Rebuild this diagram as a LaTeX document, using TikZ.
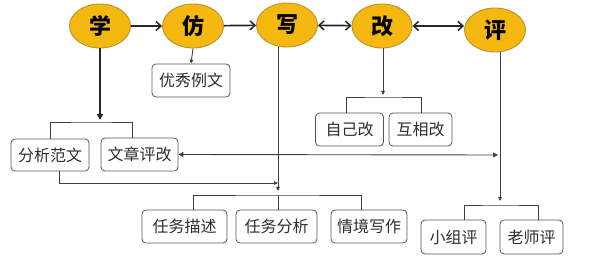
\documentclass[tikz,border=0pt]{standalone}
\usepackage{fontspec}
\newfontfamily\cjk{Noto Sans CJK SC}
\usetikzlibrary{shapes.geometric,arrows.meta,calc}
\definecolor{gold}{RGB}{244,184,16}
\definecolor{goldline}{RGB}{185,145,45}
\definecolor{boxline}{RGB}{85,85,85}
\definecolor{txt}{RGB}{45,45,45}
\tikzset{
  stage/.style={ellipse,draw=goldline,fill=gold,line width=0.9pt,minimum width=61pt,minimum height=44pt,inner sep=0pt,font=\cjk\bfseries\fontsize{22}{22}\selectfont,text=black},
  item/.style={draw=boxline,rounded corners=4pt,line width=0.8pt,inner sep=0pt,font=\cjk\fontsize{16}{16}\selectfont,text=txt},
  bigarrow/.style={line width=1.7pt,draw=black!85,-{Straight Barb[length=5pt,width=9pt,line width=1.5pt]}},
  bigdouble/.style={line width=1.7pt,draw=black!85,{Straight Barb[length=5pt,width=9pt,line width=1.5pt]}-{Straight Barb[length=5pt,width=9pt,line width=1.5pt]}},
  thin/.style={line width=0.9pt,draw=black!75},
  thinarrow/.style={thin,-{Triangle[length=4pt,width=3.5pt]}},
  thindouble/.style={thin,{Triangle[length=5pt,width=5pt]}-{Triangle[length=5pt,width=5pt]}}
}
\begin{document}
\begin{tikzpicture}[x=1pt,y=-1pt]
\useasboundingbox (0,0) rectangle (593,272);
% stages
\node[stage] (xue)  at (100,26) {学};
\node[stage] (fang) at (193,26) {仿};
\node[stage] (xie)  at (287,25) {写};
\node[stage,minimum width=60pt] (gai) at (382,26) {改};
\node[stage] (ping) at (495,30) {评};
% boxes
\node[item,minimum width=78pt,minimum height=33pt] (youxiu) at (191,80.5) {优秀例文};
\node[item,minimum width=78pt,minimum height=32pt] (fenxi) at (50,155) {分析范文};
\node[item,minimum width=77pt,minimum height=33pt] (wenzhang) at (139.5,154.5) {文章评改};
\node[item,minimum width=68pt,minimum height=33pt] (ziji) at (349.5,129.5) {自己改};
\node[item,minimum width=63pt,minimum height=33pt] (huxiang) at (420.5,129.5) {互相改};
\node[item,minimum width=85pt,minimum height=33pt] (rw1) at (184.5,226.5) {任务描述};
\node[item,minimum width=81pt,minimum height=33pt] (rw2) at (276.5,226.5) {任务分析};
\node[item,minimum width=76pt,minimum height=33pt] (qj) at (369,226.5) {情境写作};
\node[item,minimum width=65pt,minimum height=34pt] (xz) at (453.5,237) {小组评};
\node[item,minimum width=63pt,minimum height=34pt] (ls) at (531.5,237) {老师评};
% top chain
\draw[bigarrow] (xue) -- (fang);
\draw[bigarrow] (fang) -- (xie);
\draw[bigdouble] (xie) -- (gai);
\draw[bigdouble] (gai.east) -- (gai.east -| ping.west);
% coordinates
\coordinate (xueend) at (100,120);
\coordinate (b1) at (91,122);
\coordinate (xieend) at (278,191);
\coordinate (b2) at (278,195);
\coordinate (fxend) at (278,183);
\coordinate (gaiend) at (383,95);
\coordinate (b3) at (383,97);
\coordinate (pingend) at (500,201);
\coordinate (b4) at (500,205);
\coordinate (dblend) at (498,155);
% 学
\draw[line width=1.5pt,draw=black!85,-{Triangle[length=6pt,width=6pt]}] (xue.south) -- (xueend);
\draw[thin] (fenxi.north) |- (b1) -| ([xshift=-7.5pt]wenzhang.north);
% 仿
\draw[thinarrow] (fang.south) -- (youxiu.north);
% 写
\draw[thinarrow] ([xshift=-9pt]xie.south) -- (xieend);
\draw[thin] ([xshift=8.5pt]rw1.north) |- (b2) -| ([xshift=-8pt]qj.north);
\draw[thin] (b2) -- ([xshift=1.5pt]rw2.north);
\draw[thinarrow] ([xshift=9pt]fenxi.south) |- (fxend);
% 改
\draw[thinarrow] ([xshift=1pt]gai.south) -- (gaiend);
\draw[thin] ([xshift=-3.5pt]ziji.north) |- (b3) -| ([xshift=0.5pt]huxiang.north);
% 评
\draw[thinarrow] ([xshift=5pt]ping.south) -- (pingend);
\draw[thin] ([xshift=10.5pt]xz.north) |- (b4) -| ([xshift=6.5pt]ls.north);
% double arrow
\draw[thindouble] (wenzhang.east) -- (dblend);
\end{tikzpicture}
\end{document}
